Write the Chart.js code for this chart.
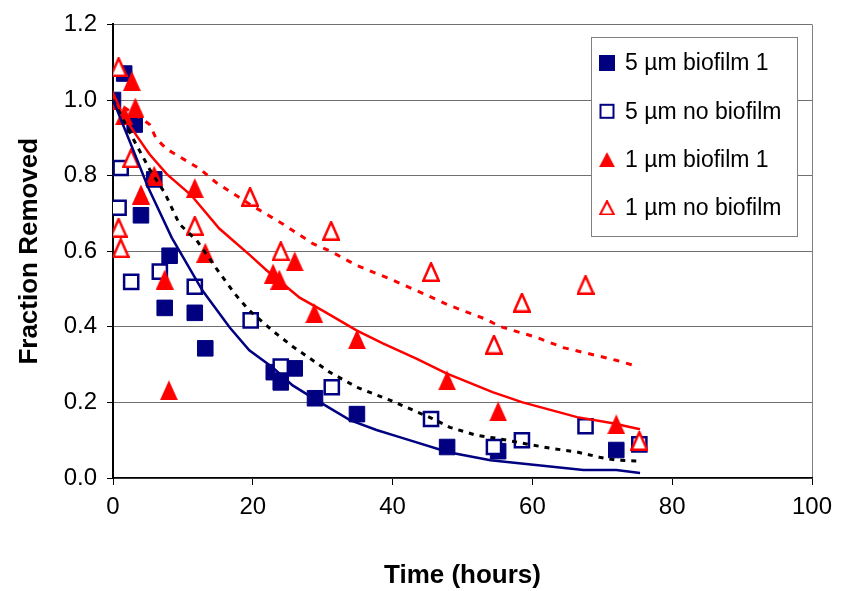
<!DOCTYPE html>
<html>
<head>
<meta charset="utf-8">
<script src="https://cdn.jsdelivr.net/npm/chart.js@4.4.1/dist/chart.umd.min.js"></script>
<style>
  html, body { margin: 0; padding: 0; background: #fff; }
</style>
</head>
<body>
<canvas id="chart" width="847" height="591"></canvas>
<script>
// measured points (time in hours, fraction removed)
const bio5Time = [0, 1.6, 3.1, 4.0, 5.9, 7.4, 8.1, 11.7, 13.2, 23.0, 24.0, 26.0, 28.9, 34.9, 47.8, 55.1, 72.0];
const bio5Frac = [1.0, 1.07, 0.935, 0.695, 0.79, 0.45, 0.588, 0.437, 0.343, 0.28, 0.253, 0.29, 0.211, 0.169, 0.082, 0.071, 0.074];

const noBio5Time = [1.1, 0.8, 2.6, 6.7, 11.7, 19.7, 24.0, 31.3, 45.5, 54.5, 58.5, 67.6, 75.3];
const noBio5Frac = [0.82, 0.715, 0.519, 0.546, 0.506, 0.417, 0.295, 0.24, 0.156, 0.082, 0.1, 0.137, 0.089];

const bio1Time = [0, 2.7, 1.6, 3.2, 4.0, 5.9, 7.4, 8.0, 11.7, 13.2, 22.9, 23.8, 26.0, 28.8, 34.9, 47.8, 55.1, 72.0];
const bio1Frac = [1.0, 1.05, 0.96, 0.98, 0.75, 0.8, 0.525, 0.232, 0.767, 0.596, 0.541, 0.525, 0.573, 0.436, 0.367, 0.258, 0.176, 0.142];

const noBio1Time = [0.8, 2.6, 0.8, 1.1, 11.7, 19.6, 24.0, 31.2, 45.5, 54.5, 58.5, 67.6, 75.3];
const noBio1Frac = [1.087, 0.846, 0.662, 0.608, 0.667, 0.744, 0.6, 0.654, 0.545, 0.353, 0.464, 0.511, 0.098];

// model curves
const fitBio5Time = [0, 2.4, 5, 8.4, 12.8, 16.7, 19.5, 22.8, 25.7, 29.1, 33.9, 37.7, 41, 48, 54, 67.3, 72, 75.4];
const fitBio5Frac = [1.0, 0.89, 0.77, 0.636, 0.496, 0.398, 0.338, 0.293, 0.245, 0.206, 0.153, 0.127, 0.108, 0.068, 0.047, 0.021, 0.021, 0.013];

const fitNoBio5Time = [0, 2.8, 5.2, 7.4, 9.5, 12.0, 14.8, 17.4, 19.5, 22.8, 25.7, 28.6, 31, 34.9, 39.6, 45.6, 48.2, 52, 54.9, 58.6, 62.5, 66.3, 69.6, 72.1, 75];
const fitNoBio5Frac = [1.0, 0.9, 0.818, 0.754, 0.672, 0.628, 0.554, 0.488, 0.443, 0.39, 0.348, 0.311, 0.28, 0.24, 0.206, 0.158, 0.134, 0.113, 0.105, 0.092, 0.079, 0.069, 0.055, 0.047, 0.045];

const fitBio1Time = [0, 3.4, 5.2, 7.7, 11.2, 15.2, 19.5, 22, 24.3, 26.7, 30, 34.9, 38.6, 43.4, 47.7, 54.3, 58.6, 66.4, 71.5, 75.4];
const fitBio1Frac = [1.0, 0.905, 0.857, 0.804, 0.748, 0.66, 0.591, 0.549, 0.514, 0.477, 0.443, 0.39, 0.356, 0.316, 0.277, 0.227, 0.2, 0.161, 0.145, 0.129];

const fitNoBio1Time = [0, 5.2, 6.2, 7.7, 10.5, 12.4, 14.8, 19.5, 24.3, 28.6, 31, 34.9, 39.6, 43.4, 48.2, 53.5, 55.3, 60.6, 64.4, 67.8, 72.1, 74.5];
const fitNoBio1Frac = [1.0, 0.936, 0.897, 0.87, 0.839, 0.818, 0.781, 0.725, 0.672, 0.62, 0.601, 0.562, 0.527, 0.496, 0.456, 0.419, 0.401, 0.372, 0.345, 0.33, 0.311, 0.298];

const xTicksMax = 100;
const yTicksMax = 1.2;

const NAVY = '#000080';
const RED = '#ff0000';
const FONT = "'Liberation Sans', Arial, sans-serif";

function pts(xs, ys) {
    return xs.map((x, i) => ({ x: x, y: ys[i] }));
}

// triangle markers (taller than Chart.js' equilateral one)
function makeTriangle(w, h, filled) {
    const c = document.createElement('canvas');
    c.width = w; c.height = h;
    const g = c.getContext('2d');
    const lw = filled ? 0 : 2.5;
    g.beginPath();
    g.moveTo(w / 2, lw / 2);
    g.lineTo(w - lw / 2, h - lw / 2);
    g.lineTo(lw / 2, h - lw / 2);
    g.closePath();
    if (filled) {
        g.fillStyle = RED;
        g.fill();
    } else {
        g.fillStyle = '#fff';
        g.fill();
        g.lineWidth = lw;
        g.lineJoin = 'miter';
        g.strokeStyle = RED;
        g.stroke();
    }
    return c;
}
const triFilled = makeTriangle(18, 20, true);
const triOpen = makeTriangle(18, 20, false);

function fitLine(xs, ys, color, dash, width) {
    return {
        label: '',
        data: pts(xs, ys),
        showLine: true,
        borderColor: color,
        borderWidth: width,
        borderDash: dash,
        pointRadius: 0,
        fill: false,
        tension: 0,
        order: 0
    };
}

const legendItems = [
    { text: '5 µm biofilm 1', kind: 'sqFilled' },
    { text: '5 µm no biofilm', kind: 'sqOpen' },
    { text: '1 µm biofilm 1', kind: 'triFilled' },
    { text: '1 µm no biofilm', kind: 'triOpen' }
];

// legend box inside the plot, like the original
const boxLegend = {
    id: 'boxLegend',
    afterDraw(chart) {
        const ctx = chart.ctx;
        const x0 = 591, y0 = 37, w = 206, h = 199;
        ctx.save();
        ctx.fillStyle = '#fff';
        ctx.fillRect(x0, y0, w, h);
        ctx.strokeStyle = '#808080';
        ctx.lineWidth = 1;
        ctx.strokeRect(x0 + 0.5, y0 + 0.5, w, h);
        ctx.font = '23px ' + FONT;
        ctx.textBaseline = 'middle';
        legendItems.forEach((it, i) => {
            const cy = 63 + i * 48.3;
            const cx = 607;
            if (it.kind === 'sqFilled') {
                ctx.fillStyle = NAVY;
                ctx.fillRect(cx - 8, cy - 8, 16, 16);
            } else if (it.kind === 'sqOpen') {
                ctx.strokeStyle = NAVY;
                ctx.lineWidth = 2;
                ctx.strokeRect(cx - 6.5, cy - 6.5, 13, 13);
            } else if (it.kind === 'triFilled') {
                ctx.drawImage(triFilled, cx - 8, cy - 7.5, 16, 15);
            } else {
                ctx.drawImage(triOpen, cx - 8, cy - 7.5, 16, 15);
            }
            ctx.fillStyle = '#000';
            ctx.fillText(it.text, 625, cy + 1);
        });
        ctx.restore();
    }
};

new Chart(document.getElementById('chart'), {
    type: 'scatter',
    data: {
        datasets: [
            fitLine(fitBio5Time, fitBio5Frac, NAVY, [], 2.5),
            fitLine(fitNoBio5Time, fitNoBio5Frac, '#000', [5, 6], 3),
            fitLine(fitBio1Time, fitBio1Frac, RED, [], 2.5),
            fitLine(fitNoBio1Time, fitNoBio1Frac, RED, [6, 7], 3),
            {
                label: '1 µm no biofilm',
                data: pts(noBio1Time, noBio1Frac),
                pointStyle: triOpen,
                order: 1
            },
            {
                label: '1 µm biofilm 1',
                data: pts(bio1Time, bio1Frac),
                pointStyle: triFilled,
                order: 2
            },
            {
                label: '5 µm no biofilm',
                data: pts(noBio5Time, noBio5Frac),
                pointStyle: 'rect',
                pointRadius: 10,
                pointBorderWidth: 2.5,
                pointBorderColor: NAVY,
                pointBackgroundColor: '#fff',
                order: 3
            },
            {
                label: '5 µm biofilm 1',
                data: pts(bio5Time, bio5Frac),
                pointStyle: 'rect',
                pointRadius: 11,
                pointBorderWidth: 1,
                pointBorderColor: NAVY,
                pointBackgroundColor: NAVY,
                order: 4
            }
        ]
    },
    options: {
        responsive: false,
        animation: false,
        events: [],
        layout: { padding: { top: 24, right: 35, left: 0, bottom: 0 } },
        plugins: {
            legend: { display: false },
            tooltip: { enabled: false }
        },
        scales: {
            x: {
                type: 'linear',
                min: 0,
                max: xTicksMax,
                afterFit: scale => { scale.height = 113; },
                ticks: { stepSize: 20, color: '#000', font: { family: FONT, size: 24 }, padding: 8, maxRotation: 0 },
                grid: {
                    color: c => (c.tick && c.tick.value === xTicksMax) ? '#808080' : 'rgba(0,0,0,0)',
                    tickColor: '#000',
                    tickLength: 7,
                    lineWidth: 1
                },
                border: { color: '#000', width: 1.5 },
                title: {
                    display: true,
                    text: 'Time (hours)',
                    color: '#000',
                    font: { family: FONT, size: 26, weight: 'bold', lineHeight: 1.2 },
                    padding: { top: 0, bottom: 0 }
                }
            },
            y: {
                min: 0,
                max: yTicksMax,
                afterFit: scale => { scale.width = 113; },
                ticks: {
                    stepSize: 0.2,
                    color: '#000',
                    font: { family: FONT, size: 24 },
                    padding: 10,
                    callback: v => Number(v).toFixed(1)
                },
                grid: { color: '#707070', tickColor: '#000', tickLength: 6, lineWidth: 1 },
                border: { color: '#000', width: 2 },
                title: {
                    display: true,
                    text: 'Fraction Removed',
                    color: '#000',
                    font: { family: FONT, size: 26, weight: 'bold', lineHeight: 1.2 },
                    padding: { top: 14, bottom: 0 }
                }
            }
        }
    },
    plugins: [boxLegend]
});
</script>
</body>
</html>
